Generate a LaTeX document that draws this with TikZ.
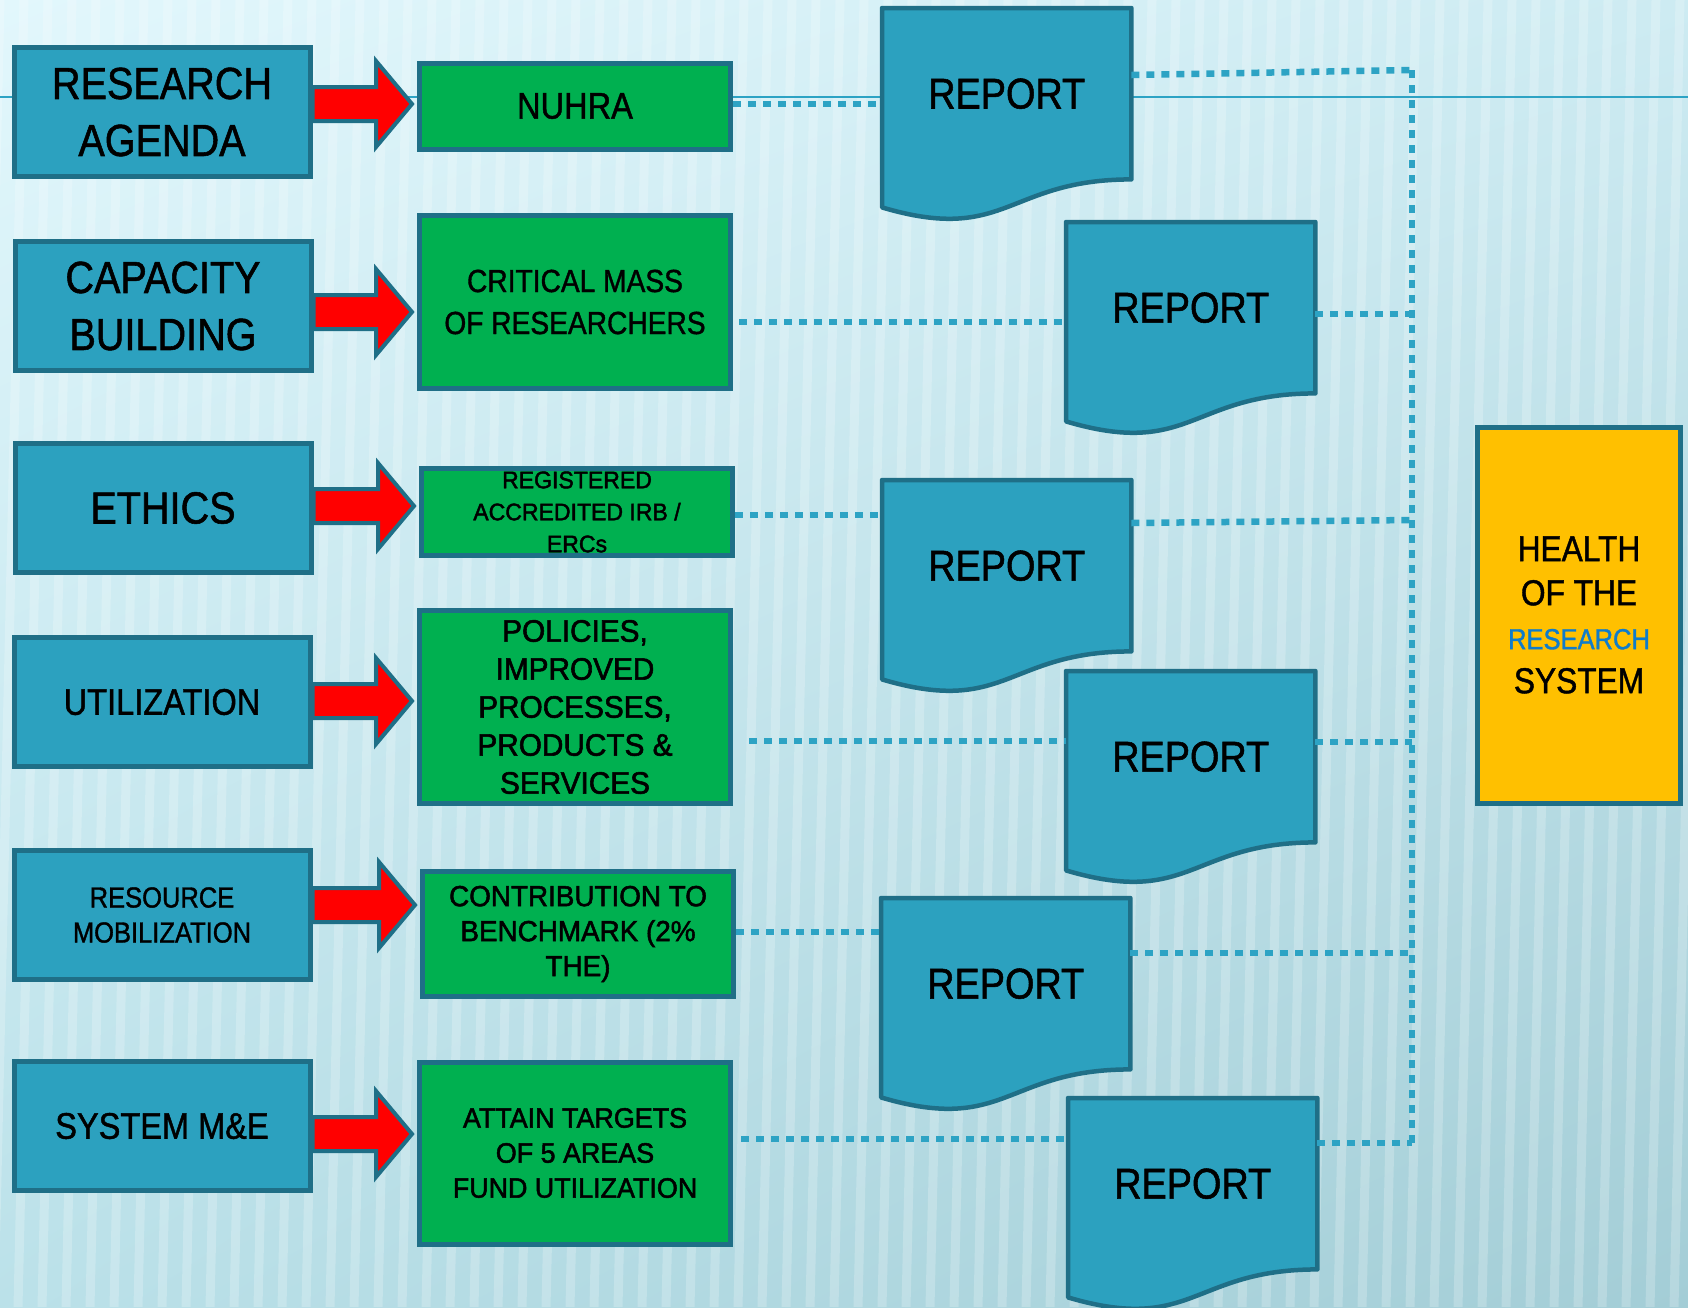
\documentclass[tikz,border=0pt]{standalone}
\usepackage{fontspec}
\setmainfont{Liberation Sans}[FakeStretch=0.88, FakeBold=1.2]
\newfontfamily\widefont{Liberation Sans}[FakeStretch=0.96, FakeBold=1.8]
\usetikzlibrary{calc,backgrounds,shadings}

\definecolor{boxblue}{HTML}{2CA1BF}
\definecolor{edgeteal}{HTML}{1F6F87}
\definecolor{boxgreen}{HTML}{00B050}
\definecolor{boxgold}{HTML}{FFC000}
\definecolor{dotblue}{HTML}{2DA3C4}
\definecolor{textblue}{HTML}{0F7CCB}
\definecolor{bgA}{HTML}{E2F7FC}
\definecolor{bgB}{HTML}{CDEBF2}
\definecolor{bgC}{HTML}{BBE1E9}
\definecolor{bgD}{HTML}{A3CDD6}

\newcommand\txtsize[2]{\fontsize{#1}{#2}\selectfont}

\tikzset{
  base/.style={draw=edgeteal, line width=5pt, align=center, inner sep=2pt},
  topic/.style={base, fill=boxblue, minimum width=296pt, minimum height=129pt},
  outcome/.style={base, fill=boxgreen, minimum width=311pt},
  goal/.style={base, fill=boxgold, minimum width=203pt, minimum height=376pt},
  reportbox/.style={anchor=north west, inner sep=0pt, minimum width=249pt,
    minimum height=171pt, font=\txtsize{43}{50}},
  docshape/.style={fill=boxblue, draw=edgeteal, line width=4.5pt, line join=round},
  pusharrow/.style={fill=red, draw=edgeteal, line width=4pt, line join=miter},
  link/.style={dotblue, line width=6.5pt, dash pattern=on 8pt off 7pt}
}

\begin{document}
\begin{tikzpicture}[x=1pt, y=-1pt]
    \useasboundingbox (0,0) rectangle (1688,1307);

    \node[topic, font=\txtsize{45}{57}] (agenda) at (162,112) {RESEARCH\\AGENDA};
    \node[topic, font=\txtsize{45}{57}] (capacity) at (163,306) {CAPACITY\\BUILDING};
    \node[topic, font=\txtsize{45}{57}] (ethics) at (163,508) {ETHICS};
    \node[topic, font=\txtsize{37}{44}] (utilize) at (162,702) {UTILIZATION};
    \node[topic, font=\txtsize{29}{35}] (resource) at (162,915) {RESOURCE\\MOBILIZATION};
    \node[topic, font=\txtsize{37}{44}] (sysme) at (162,1126) {SYSTEM M\&E};

    \node[outcome, minimum height=86pt, font=\txtsize{37}{44}] (nuhra) at (575,106) {NUHRA};
    \node[outcome, minimum height=173pt, font=\txtsize{32}{42}] (critical) at (575,302) {CRITICAL MASS\\OF RESEARCHERS};
    \node[outcome, minimum height=87pt, font=\widefont\txtsize{24}{32}] (irb) at (577,512) {REGISTERED\\ACCREDITED IRB /\\ERCs};
    \node[outcome, minimum height=193pt, font=\widefont\txtsize{31}{38}] (policy) at (575,707) {POLICIES,\\IMPROVED\\PROCESSES,\\PRODUCTS \&\\SERVICES};
    \node[outcome, minimum height=125pt, font=\widefont\txtsize{29}{35}] (bench) at (578,934) {CONTRIBUTION TO\\BENCHMARK (2\%\\THE)};
    \node[outcome, minimum height=182pt, font=\widefont\txtsize{28}{35}] (targets) at (575,1153) {ATTAIN TARGETS\\OF 5 AREAS\\FUND UTILIZATION};

    \node[goal, font=\txtsize{36}{44}] (health) at (1579,615) {HEALTH\\OF THE\\{\color{textblue}\txtsize{29}{44}RESEARCH}\\SYSTEM};

    \node[reportbox] (rep1) at (882,8) {REPORT};
    \node[reportbox] (rep2) at (1066,222) {REPORT};
    \node[reportbox] (rep3) at (882,480) {REPORT};
    \node[reportbox] (rep4) at (1066,671) {REPORT};
    \node[reportbox] (rep5) at (881,898) {REPORT};
    \node[reportbox] (rep6) at (1068,1098) {REPORT};

    \foreach \src/\dst/\ay in {agenda/nuhra/104, capacity/critical/312, ethics/irb/506,
        utilize/policy/701, resource/bench/905, sysme/targets/1134} {
        \path (\src.east |- 0,\ay) coordinate (s) (\dst.west |- 0,\ay) coordinate (t);
        \filldraw[pusharrow] ($(s)+(0,-17)$) -- ($(t)+(-41,-17)$) -- ($(t)+(-41,-43)$)
            -- ($(t)+(-5,0)$) -- ($(t)+(-41,43)$) -- ($(t)+(-41,17)$) -- ($(s)+(0,17)$) -- cycle;
    }

    \draw[link] (nuhra.east |- 0,104) -- (rep1.west |- 0,104);
    \draw[link, shorten <=6pt] (critical.east |- 0,322) -- (rep2.west |- 0,322);
    \draw[link] (irb.east |- 0,515) -- (rep3.west |- 0,515);
    \draw[link, shorten <=16pt] (policy.east |- 0,741) -- (rep4.west |- 0,741);
    \draw[link] (bench.east |- 0,932) -- (rep5.west |- 0,932);
    \draw[link, shorten <=8pt] (targets.east |- 0,1139) -- (rep6.west |- 0,1139);

    \coordinate (bustop) at (1412,70);
    \coordinate (busbot) at (1412,1143);
    \draw[link] (rep1.east |- 0,75) -- (bustop);
    \draw[link] (bustop) -- (busbot);
    \draw[link] (rep2.east |- 0,314) -- (bustop |- 0,314);
    \draw[link] (rep3.east |- 0,523) -- (bustop |- 0,520);
    \draw[link] (rep4.east |- 0,742) -- (bustop |- 0,742);
    \draw[link] (rep5.east |- 0,953) -- (bustop |- 0,953);
    \draw[link] (rep6.east |- 0,1143) -- (busbot);

    \begin{scope}[on background layer]
        \shade[upper left=bgA, upper right=bgB, lower left=bgC, lower right=bgD] (0,0) rectangle (1688,1307);
        \foreach \sx in {0,24,...,1728} {
            \draw[white, opacity=0.22, line width=9pt] (\sx-30,1307) -- (\sx,0);
        }
        \draw[dotblue, line width=2.5pt] (0,97) -- (1688,97);
        \foreach \r in {rep1,rep2,rep3,rep4,rep5,rep6} {
            \filldraw[docshape] (\r.north west) -- (\r.north east) -- (\r.south east)
                .. controls (\r.south) and ($(\r.south)+(0,65)$) .. ($(\r.south west)+(0,28)$) -- cycle;
        }
    \end{scope}
\end{tikzpicture}
\end{document}
